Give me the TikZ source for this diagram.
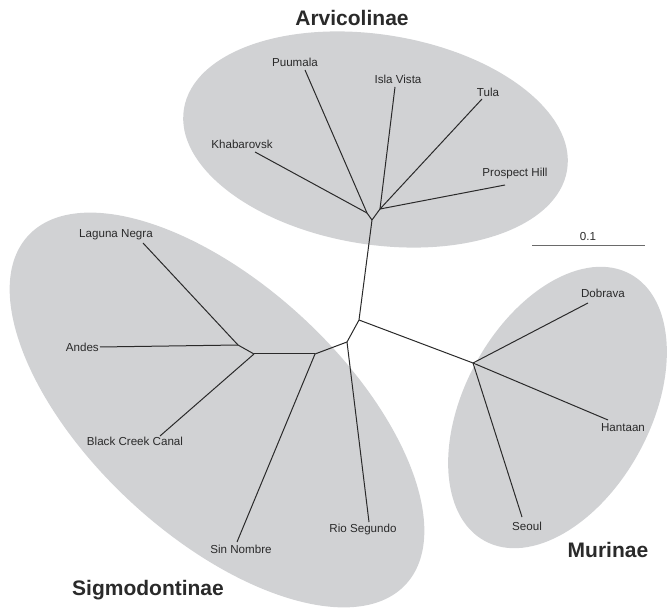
\documentclass[tikz,border=0pt]{standalone}
\usepackage{fontspec}
\setmainfont{Liberation Sans}
\definecolor{cladegray}{HTML}{D1D2D4}
\definecolor{treeink}{HTML}{2A2A2A}
\tikzset{
   clade/.style={fill=cladegray,draw=none},
   branch/.style={draw=treeink,line width=1pt},
   taxon/.style={font=\fontsize{11.6}{13}\selectfont,text=treeink,inner sep=1pt},
   subfam/.style={font=\bfseries\fontsize{21}{24}\selectfont,text=treeink,inner sep=0pt}
}
\begin{document}
\begin{tikzpicture}[x=1pt,y=-1pt]
   \path[use as bounding box] (0,0) rectangle (667,609);
   % clades
   \fill[clade,rotate around={-9:(375.5,139.5)}] (375.5,139.5) ellipse (194 and 105);
   \fill[clade,rotate around={-42.7:(217,410)}] (217,410) ellipse (257 and 126);
   \fill[clade,rotate around={61.4:(557.5,407.5)}] (557.5,407.5) ellipse (152 and 93);
   % inner nodes
   \coordinate (root) at (359,320);
   \coordinate (arv) at (372,220);
   \coordinate (arvA) at (367,213);
   \coordinate (arvB) at (380,209);
   \coordinate (sig1) at (347,342);
   \coordinate (sig2) at (315,354);
   \coordinate (sig3) at (254,354);
   \coordinate (sig4) at (238,345);
   \coordinate (mur) at (473,363);
   % tips
   \coordinate (puu) at (305,70);
   \coordinate (isl) at (395,87);
   \coordinate (tul) at (482,99);
   \coordinate (kha) at (255,152);
   \coordinate (pro) at (505,185);
   \coordinate (rio) at (369,522);
   \coordinate (sin) at (237,542);
   \coordinate (lag) at (143,243);
   \coordinate (and) at (100,347);
   \coordinate (bcc) at (160,436);
   \coordinate (dob) at (588,303);
   \coordinate (han) at (608,420);
   \coordinate (seo) at (522,517);
   % labels
   \node[taxon] (puuL) at (295,62) {Puumala};
   \node[taxon] (islL) at (398,79) {Isla Vista};
   \node[taxon] (tulL) at (488,92) {Tula};
   \node[taxon] (khaL) at (242,144) {Khabarovsk};
   \node[taxon] (proL) at (515,174) {Prospect Hill};
   \node[taxon] (rioL) at (363,530) {Rio Segundo};
   \node[taxon] (sinL) at (241,549) {Sin Nombre};
   \node[taxon] (lagL) at (116,235) {Laguna Negra};
   \node[taxon,anchor=east] (andL) at (and) {Andes};
   \node[taxon] (bccL) at (135,441) {Black Creek Canal};
   \node[taxon] (dobL) at (603,293) {Dobrava};
   \node[taxon] (hanL) at (623,428) {Hantaan};
   \node[taxon] (seoL) at (527,526) {Seoul};
   \node[subfam] (arvL) at (352,18) {Arvicolinae};
   \node[subfam] (sigL) at (148,590) {Sigmodontinae};
   \node[subfam] (murL) at (608,550) {Murinae};
   % branches
   \draw[branch] (root) -- (arv);
   \draw[branch] (root) -- (sig1);
   \draw[branch] (root) -- (mur);
   \draw[branch] (arv) -- (arvA);
   \draw[branch] (arv) -- (arvB);
   \draw[branch] (arvA) -- (puu);
   \draw[branch] (arvA) -- (kha);
   \draw[branch] (arvB) -- (isl);
   \draw[branch] (arvB) -- (tul);
   \draw[branch] (arvB) -- (pro);
   \draw[branch] (sig1) -- (rio);
   \draw[branch] (sig1) -- (sig2);
   \draw[branch] (sig2) -- (sin);
   \draw[branch] (sig2) -- (sig3);
   \draw[branch] (sig3) -- (sig4);
   \draw[branch] (sig3) -- (bcc);
   \draw[branch] (sig4) -- (lag);
   \draw[branch] (sig4) -- (and);
   \draw[branch] (mur) -- (dob);
   \draw[branch] (mur) -- (han);
   \draw[branch] (mur) -- (seo);
   % scale bar
   \coordinate (barL) at (532,246);
   \coordinate (barR) at (645,246);
   \draw[draw=treeink!70,line width=1pt] (barL) -- (barR);
   \node[taxon] (barT) at (588,237) {0.1};
\end{tikzpicture}
\end{document}
